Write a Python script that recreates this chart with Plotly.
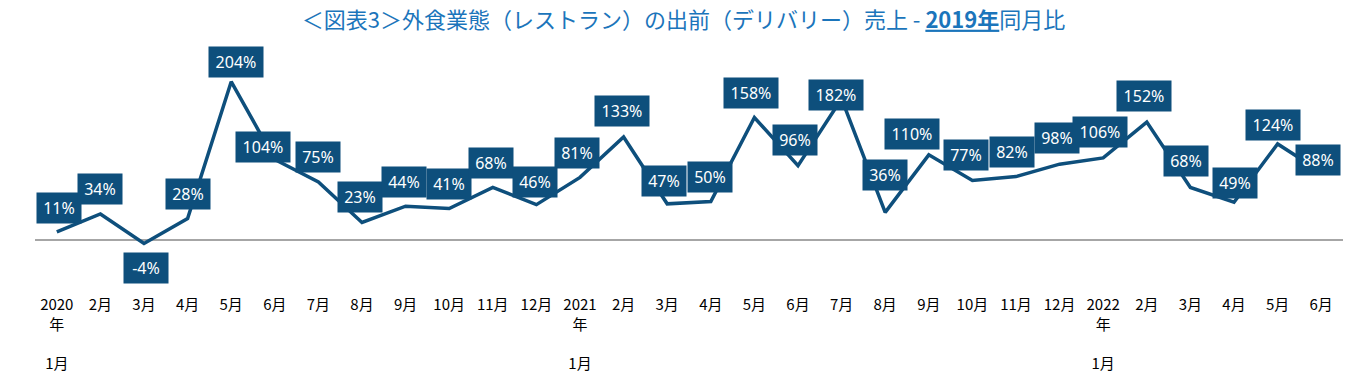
import plotly.graph_objects as go

# ---- data ----
months = ["2020<br>年<br><br>1月", "2月", "3月", "4月", "5月", "6月", "7月", "8月", "9月", "10月", "11月", "12月",
          "2021<br>年<br><br>1月", "2月", "3月", "4月", "5月", "6月", "7月", "8月", "9月", "10月", "11月", "12月",
          "2022<br>年<br><br>1月", "2月", "3月", "4月", "5月", "6月"]
values = [11, 34, -4, 28, 204, 104, 75, 23, 44, 41, 68, 46,
          81, 133, 47, 50, 158, 96, 182, 36, 110, 77, 82, 98,
          106, 152, 68, 49, 124, 88]

# label offsets in pixels (dx, dy up)
label_dx = [2, 0, 2, 0, 5, -12, 0, -2, -2, 0, -2, -1,
            -3, -2, -3, -1, -3, -3, -6, 0, -17, -6, -4, -3,
            -3, -3, -4, 1, -5, -3]
label_dy = [24, 25, -24, 25, 20, 12, 25, 26, 24, 25, 24, 23,
            24, 26, 23, 25, 24, 26, 4, 37, 21, 25, 25, 26,
            26, 26, 26, 19, 19, 12]

xs = list(range(len(values)))
LINE = "#0e4f7c"

fig = go.Figure()
fig.add_trace(go.Scatter(x=xs, y=values, mode="lines",
                         line=dict(color=LINE, width=3.5), hoverinfo="skip"))

for i, v in enumerate(values):
    txt = f"{v}%"
    fig.add_annotation(x=xs[i], y=v, xref="x", yref="y", text=txt, showarrow=False,
                       xshift=label_dx[i], yshift=label_dy[i],
                       font=dict(family="Noto Sans", size=16, color="white"),
                       bgcolor=LINE, borderpad=4, width=10 * len(txt) + 6)

title = ("＜図表3＞外食業態（レストラン）の出前（デリバリー）売上 - "
         "<b><span style='text-decoration:underline'>2019年</span></b>同月比")

fig.update_layout(
    width=1367, height=385,
    margin=dict(l=35, r=24, t=40, b=95),
    paper_bgcolor="white", plot_bgcolor="white",
    showlegend=False,
    title=dict(text=title, x=0.5, xanchor="center", y=0.968, yanchor="top",
               font=dict(family="Noto Sans CJK JP", size=22, color="#1b75bb")),
    xaxis=dict(range=[-0.5, len(values) - 0.5], tickmode="array", tickvals=xs, ticktext=months,
               showgrid=False, showline=False, zeroline=False, ticks="", ticklabelstandoff=6,
               tickfont=dict(family="Noto Sans CJK JP", size=15, color="black")),
    yaxis=dict(range=[-61.2, 257.6], showgrid=False, showticklabels=False, showline=False,
               zeroline=True, zerolinecolor="#a6a6a6", zerolinewidth=2),
)

fig.write_html("out.html", config={"displayModeBar": False},
               post_script="document.body.style.margin='0';")
